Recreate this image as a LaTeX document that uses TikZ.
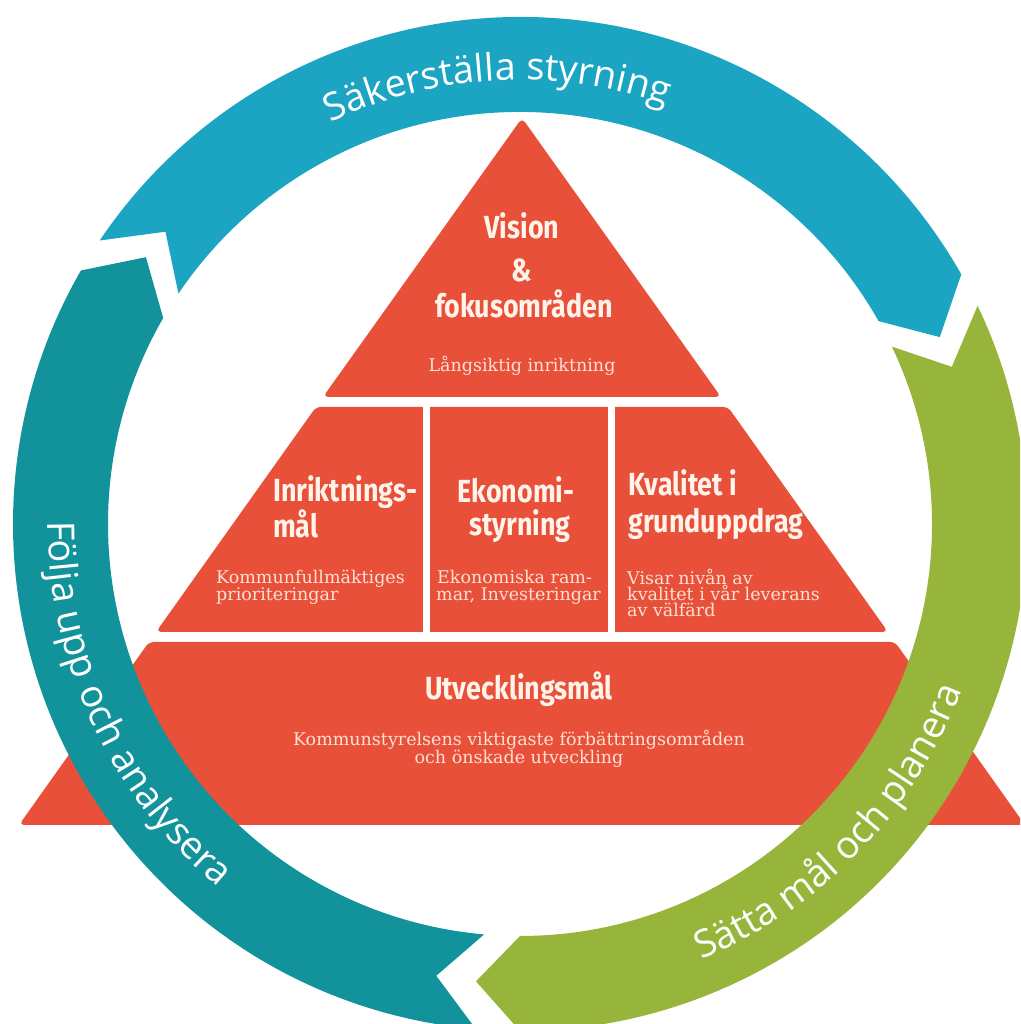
\documentclass[tikz,border=0pt]{standalone}
\usepackage{fontspec}
\usetikzlibrary{decorations.text}
\setmainfont{DejaVu Serif}
\newfontfamily\ringfam{Open Sans}
\newfontfamily\titlefam[FakeStretch=0.84]{Fira Sans}
\newfontfamily\subfam{DejaVu Serif}
\definecolor{ringblue}{HTML}{1BA5C3}
\definecolor{ringteal}{HTML}{12939B}
\definecolor{ringgreen}{HTML}{98B53B}
\definecolor{pyrred}{HTML}{E8503A}
\definecolor{titlewhite}{HTML}{FFF3EA}
\definecolor{subwhite}{HTML}{FDE1D3}
\newcommand\ringtextfmt{\ringfam\fontsize{38}{40}\selectfont\color{white}}
\newcommand\ringarrow[3]{%
  \fill[#1, shift={(520,500)}] (#2:507) arc[start angle=#2, end angle=#3, radius=507]
    -- ({#3-5.5}:459.5) -- (#3:412) arc[start angle=#3, end angle=#2, radius=412]
    -- ({#2-5.5}:459.5) -- cycle;}
\tikzset{
  ttl/.style={inner sep=0pt, text=titlewhite, font=\titlefam\bfseries\fontsize{32}{34}\selectfont},
  subtxt/.style={inner sep=0pt, text=subwhite, font=\subfam\fontsize{17.5}{18}\selectfont},
  tier/.style={fill=pyrred, rounded corners=5pt}
}
\begin{document}
\begin{tikzpicture}[x=1pt, y=1pt]
\useasboundingbox (0,0) rectangle (1020,1024);
\fill[white] (0,0) rectangle (1020,1024);
\clip (0,0) rectangle (1020,1024);
% pyramid
\path[tier] (522,906) -- (721,627) -- (323,627) -- cycle;
\path[tier] (316,617) -- (728,617) -- (888,392) -- (156,392) -- cycle;
\path[tier] (149,382) -- (895,382) -- (1025,199) -- (19,199) -- cycle;
\fill[white] (423,388) rectangle (430,621);
\fill[white] (608,388) rectangle (615,621);
% ring
\ringarrow{ringblue}{146}{29.5}
\ringarrow{ringgreen}{25.5}{-90}
\ringarrow{ringteal}{-95}{-210}
% ring texts
\path[decorate, decoration={text along path, text align=center, text={|\ringtextfmt|Säkerställa styrning}}]
  (520,500) ++(123:444) arc[start angle=123, end angle=63, radius=444];
\path[decorate, decoration={text along path, text align=center, text={|\ringtextfmt|Följa upp och analysera}}]
  (520,500) ++(175:472) arc[start angle=175, end angle=235, radius=472];
\path[decorate, decoration={text along path, text align=center, text={|\ringtextfmt|Sätta mål och planera}}]
  (520,500) ++(-74:472) arc[start angle=-74, end angle=-14, radius=472];
% top tier
\node[ttl, anchor=base] (vis) at (522,785) {Vision};
\node[ttl, anchor=base] (amp) at (522,742) {\&};
\node[ttl, anchor=base] (fok) at (524,706) {fokusområden};
\node[subtxt, anchor=base] (lang) at (522,652) {Långsiktig inriktning};
% middle tier
\node[ttl, anchor=base west] (inr1) at (273,522) {Inriktnings-};
\node[ttl, anchor=base west] (inr2) at (273,486) {mål};
\node[ttl, anchor=base] (eko1) at (516,521) {Ekonomi-};
\node[ttl, anchor=base] (eko2) at (520,488) {styrning};
\node[ttl, anchor=base west] (kva1) at (628,528) {Kvalitet i};
\node[ttl, anchor=base west] (kva2) at (628,491) {grunduppdrag};
\node[subtxt, anchor=base west] (s1a) at (216,440) {Kommunfullmäktiges};
\node[subtxt, anchor=base west] (s1b) at (216,423) {prioriteringar};
\node[subtxt, anchor=base west] (s2a) at (437,440) {Ekonomiska ram-};
\node[subtxt, anchor=base west] (s2b) at (436,423) {mar, Investeringar};
\node[subtxt, anchor=base west] (s3a) at (627,439) {Visar nivån av};
\node[subtxt, anchor=base west] (s3b) at (627,423) {kvalitet i vår leverans};
\node[subtxt, anchor=base west] (s3c) at (627,407) {av välfärd};
% bottom tier
\node[ttl, anchor=base] (utv) at (519,324) {Utvecklingsmål};
\node[subtxt, anchor=base] (ks1) at (519,278) {Kommunstyrelsens viktigaste förbättringsområden};
\node[subtxt, anchor=base] (ks2) at (519,260) {och önskade utveckling};
\end{tikzpicture}
\end{document}
